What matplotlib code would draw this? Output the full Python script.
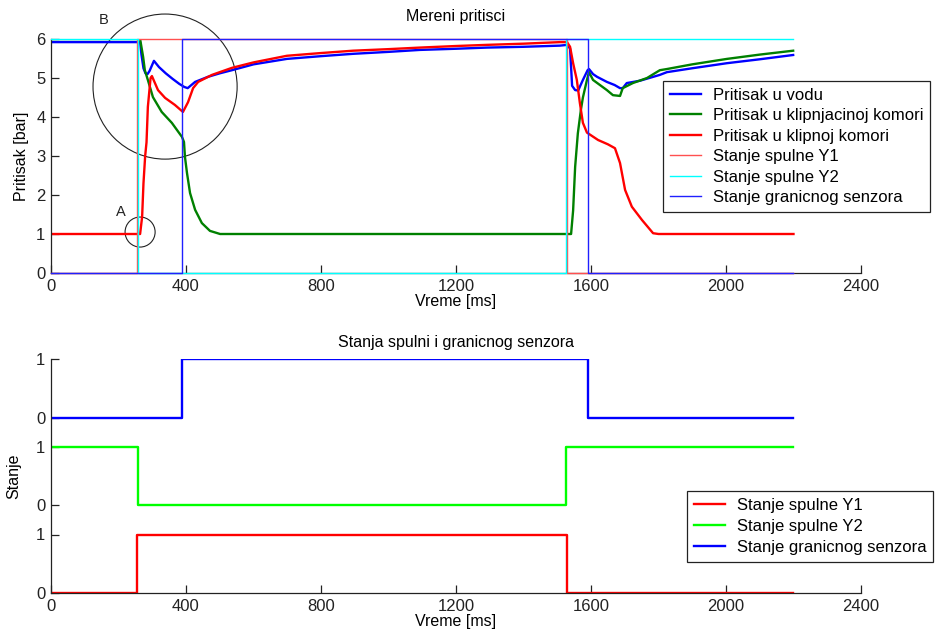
import matplotlib
matplotlib.use("Agg")
import matplotlib.pyplot as plt
from matplotlib.patches import Ellipse

plt.rcParams['font.family'] = ['Liberation Sans', 'DejaVu Sans']

# ---- measured pressures [bar] vs time [ms] ----
t_vod = [0, 264, 268, 274, 280, 286, 292, 298, 305, 320, 340, 360, 380, 395, 405,
         427, 465, 500, 536, 600, 699, 800, 895, 1000, 1093, 1200, 1292, 1400, 1508,
         1530, 1538, 1544, 1553, 1562, 1576, 1590, 1594, 1606, 1618, 1647, 1670, 1686,
         1694, 1706, 1745, 1804, 1825, 1900, 2003, 2100, 2199]
p_vod = [5.92, 5.92, 5.6, 5.25, 5.12, 5.1, 5.18, 5.3, 5.44, 5.28, 5.12, 4.98, 4.85, 4.77, 4.74,
         4.9, 5.03, 5.12, 5.2, 5.35, 5.49, 5.56, 5.62, 5.67, 5.72, 5.75, 5.78, 5.8, 5.83,
         5.85, 5.75, 4.8, 4.69, 4.68, 4.95, 5.2, 5.23, 5.1, 5.03, 4.9, 4.82, 4.74,
         4.74, 4.87, 4.93, 5.08, 5.15, 5.25, 5.38, 5.48, 5.59]

t_klipnjac = [0, 264, 273, 278, 287, 302, 328, 358, 388, 394, 397, 403, 412, 427, 447, 471,
              501, 1541, 1547, 1553, 1561, 1570, 1576, 1588, 1594, 1606, 1647, 1665, 1686,
              1694, 1724, 1766, 1804, 1825, 1900, 2003, 2100, 2199]
p_klipnjac = [6.0, 6.0, 5.54, 5.2, 4.95, 4.51, 4.13, 3.85, 3.49, 3.36, 2.97, 2.56, 2.05, 1.62, 1.28, 1.08,
              1.0, 1.0, 1.6, 2.72, 3.58, 4.18, 4.5, 4.95, 5.15, 4.95, 4.69, 4.56, 4.54,
              4.74, 4.87, 5.0, 5.2, 5.23, 5.35, 5.49, 5.6, 5.7]

t_klip = [0, 264, 270, 274, 279, 283, 287, 295, 299, 317, 338, 367, 391, 406, 421, 436, 477,
          536, 600, 699, 800, 895, 1000, 1093, 1200, 1292, 1400, 1508, 1529, 1538, 1547, 1558,
          1567, 1576, 1588, 1621, 1650, 1671, 1686, 1701, 1721, 1751, 1784, 1800, 2200]
p_klip = [1.0, 1.0, 1.44, 2.3, 3.0, 3.35, 4.26, 5.0, 5.05, 4.69, 4.49, 4.31, 4.13, 4.38, 4.74, 4.9, 5.08,
          5.26, 5.4, 5.57, 5.64, 5.7, 5.74, 5.78, 5.82, 5.85, 5.88, 5.92, 5.92, 5.8, 5.38, 4.95,
          4.36, 3.85, 3.6, 3.41, 3.3, 3.2, 2.82, 2.13, 1.7, 1.36, 1.02, 1.0, 1.0]

# ---- digital states (switching instants, step-post) ----
t_y1 = [0, 255, 1528, 2200]
s_y1 = [0, 1, 0, 0]
t_y2 = [0, 257, 1525, 2200]
s_y2 = [1, 0, 1, 1]
t_sen = [0, 389, 1590, 2200]
s_sen = [0, 1, 0, 0]

state_scale = 6            # states drawn at full pressure scale in the upper plot
offsets = [0, 1.5, 3]      # vertical stacking of states in the lower plot

xticks = [0, 400, 800, 1200, 1600, 2000, 2400]

fig = plt.figure(figsize=(9.37, 6.38), dpi=100)
ax1 = fig.add_axes([51/937, 1-273/638, 810/937, 234/638])
ax2 = fig.add_axes([51/937, 1-593/638, 810/937, 234/638])


def style(ax):
    for s in ('top', 'right'):
        ax.spines[s].set_visible(False)
    for s in ('left', 'bottom'):
        ax.spines[s].set_color('#222222')
        ax.spines[s].set_linewidth(0.9)
    ax.tick_params(direction='in', length=6, width=0.9, labelsize=12, pad=4,
                   color='#222222', labelcolor='#222222')
    ax.set_xlim(0, 2400)
    ax.set_xticks(xticks)


# upper plot: pressures
ax1.plot(t_vod, p_vod, color='#0000ff', lw=1.7, label='Pritisak u vodu')
ax1.plot(t_klipnjac, p_klipnjac, color='#008000', lw=1.7, label='Pritisak u klipnjacinoj komori')
ax1.plot(t_klip, p_klip, color='#ff0000', lw=1.7, label='Pritisak u klipnoj komori')
state_kw = dict(drawstyle='steps-post', lw=1.0, zorder=3, clip_on=False)
ax1.plot(t_y1, [v * state_scale for v in s_y1], color='#ff5050',
         label='Stanje spulne Y1', **state_kw)
ax1.plot(t_y2, [v * state_scale for v in s_y2], color='#00ffff',
         label='Stanje spulne Y2', **state_kw)
ax1.plot(t_sen, [v * state_scale for v in s_sen], color='#2020ff',
         label='Stanje granicnog senzora', **state_kw)
style(ax1)
ax1.set_ylim(0, 6)
ax1.set_yticks(range(0, 7))
ax1.set_title('Mereni pritisci', fontsize=11.5, pad=13)
ax1.set_xlabel('Vreme [ms]', fontsize=11.5, labelpad=0)
ax1.set_ylabel('Pritisak [bar]', fontsize=11.5, labelpad=5)

# marked regions
ax1.add_patch(Ellipse((338, 4.78), 427, 3.72, fill=False, ec='#222222', lw=0.8, clip_on=False))
ax1.add_patch(Ellipse((264, 1.05), 89, 0.77, fill=False, ec='#222222', lw=0.8, clip_on=False))
ax1.text(157, 6.49, 'B', fontsize=10.5, ha='center', va='center', color='#222222')
ax1.text(207, 1.56, 'A', fontsize=10.5, ha='center', va='center', color='#222222')

leg_kw = dict(loc='upper left', bbox_transform=fig.transFigure, fontsize=12, frameon=True,
              fancybox=False, framealpha=1, edgecolor='#222222', handlelength=1.9,
              handletextpad=0.7, borderpad=0.4, borderaxespad=0)
leg1 = ax1.legend(bbox_to_anchor=(663/937, 1-81/638), labelspacing=0.33, **leg_kw)
leg1.get_frame().set_linewidth(0.9)

# lower plot: stacked states
ax2.plot(t_y1, [v + offsets[0] for v in s_y1], drawstyle='steps-post', color='#ff0000', lw=1.7,
         label='Stanje spulne Y1')
ax2.plot(t_y2, [v + offsets[1] for v in s_y2], drawstyle='steps-post', color='#00ff00', lw=1.7,
         label='Stanje spulne Y2')
ax2.plot(t_sen, [v + offsets[2] for v in s_sen], drawstyle='steps-post', color='#0000ff', lw=1.7,
         label='Stanje granicnog senzora')
style(ax2)
ax2.set_ylim(0, 4)
ax2.set_yticks([o + d for o in offsets for d in (0, 1)])
ax2.set_yticklabels(['0', '1'] * len(offsets))
ax2.set_title('Stanja spulni i granicnog senzora', fontsize=11.5, pad=9)
ax2.set_xlabel('Vreme [ms]', fontsize=11.5, labelpad=0)
ax2.set_ylabel('Stanje', fontsize=11.5, labelpad=11)

leg2 = ax2.legend(bbox_to_anchor=(687/937, 1-491/638), labelspacing=0.38, **leg_kw)
leg2.get_frame().set_linewidth(0.9)

fig.savefig('out.png', dpi=100)
